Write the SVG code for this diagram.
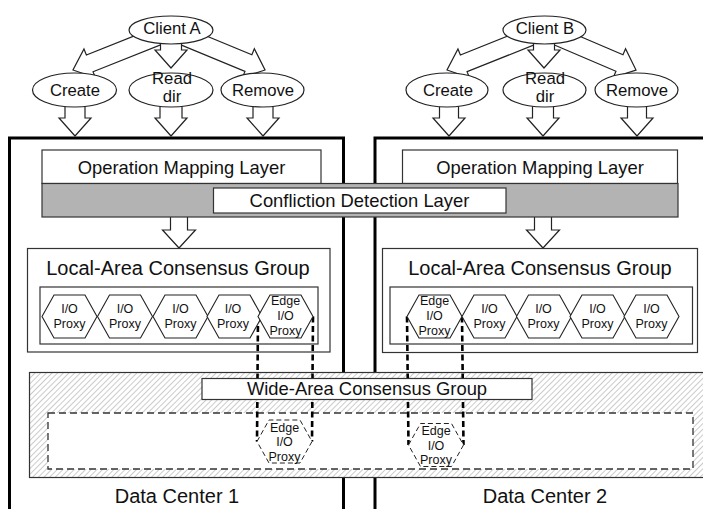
<svg xmlns="http://www.w3.org/2000/svg" xmlns:xlink="http://www.w3.org/1999/xlink" width="703" height="509" viewBox="0 0 703 509">
  <style>
    text { font-family: "Liberation Sans", Arial, sans-serif; fill: #111; text-anchor: middle; }
    .dc { fill: #fff; stroke: #000; stroke-width: 3; }
    .box { fill: #fff; stroke: #333; stroke-width: 1.2; }
    .frame { fill: none; stroke: #333; stroke-width: 1.2; }
    .band { fill: #b3b3b3; stroke: #333; stroke-width: 1.2; }
    .arrow { fill: #fff; stroke: #222; stroke-width: 1.2; stroke-linejoin: miter; }
    .ell { fill: #fff; stroke: #222; stroke-width: 1.2; }
    .hex { fill: #fff; stroke: #222; stroke-width: 1.1; }
    .hexd { fill: #fff; stroke: #222; stroke-width: 1; stroke-dasharray: 5 3; }
    .link { fill: none; stroke: #000; stroke-width: 2.6; stroke-dasharray: 6 3.5; }
    .dash { fill: #fff; stroke: #333; stroke-width: 1.3; stroke-dasharray: 7 4; }
    .t16 { font-size: 16.7px; }
    .t18 { font-size: 18.4px; }
    .t20 { font-size: 20px; }
    .t12 { font-size: 12.5px; }
  </style>
  <defs>
    <pattern id="hatch" patternUnits="userSpaceOnUse" width="4" height="4" patternTransform="rotate(45)">
      <line x1="0" y1="0" x2="0" y2="4" stroke="#8c8c8c" stroke-width="0.9"/>
    </pattern>
    <polygon id="hexShape" points="0,21.5 12,0 43,0 55,21.5 43,43 12,43"/>
  </defs>

  <!-- data centre frames -->
  <g id="dc1">
    <rect class="dc" x="9.5" y="138" width="334" height="400"/>
    <text class="t20" x="177" y="502.5">Data Center 1</text>
  </g>
  <g id="dc2">
    <rect class="dc" x="375" y="138" width="400" height="400"/>
    <text class="t20" x="545" y="502.5">Data Center 2</text>
  </g>

  <!-- wide-area region (hatched) and its inner member area -->
  <g id="wide-area-region">
    <rect x="29.5" y="372.5" width="690" height="105" fill="#fff"/>
    <rect x="29.5" y="372.5" width="690" height="105" fill="url(#hatch)" stroke="#333" stroke-width="1.2"/>
    <rect class="dash" x="48" y="413" width="645" height="56"/>
  </g>

  <!-- connectors -->
  <g id="connectors">
    <!-- client A fan-out -->
    <path class="arrow" transform="translate(171,31) rotate(158.3)" d="M0,-9 L87.5,-9 L87.5,-15.5 L105.5,0 L87.5,15.5 L87.5,9 L0,9 Z"/>
    <path class="arrow" transform="translate(171,31) rotate(22.5)" d="M0,-9 L83.8,-9 L83.8,-15.5 L101.8,0 L83.8,15.5 L83.8,9 L0,9 Z"/>
    <path class="arrow" d="M160.5,38 L160.5,50 L155,50 L171,68 L187,50 L181.5,50 L181.5,38 Z"/>
    <!-- client B fan-out -->
    <path class="arrow" transform="translate(544.5,31) rotate(158.2)" d="M0,-9 L87,-9 L87,-15.5 L105,0 L87,15.5 L87,9 L0,9 Z"/>
    <path class="arrow" transform="translate(544.5,31) rotate(23.1)" d="M0,-9 L81.5,-9 L81.5,-15.5 L99.5,0 L81.5,15.5 L81.5,9 L0,9 Z"/>
    <path class="arrow" d="M533.5,38 L533.5,50 L528,50 L544,68 L560,50 L554.5,50 L554.5,38 Z"/>
    <!-- operations into data centre 1 -->
    <path class="arrow" d="M65,104 L65,118 L59,118 L75,136 L91,118 L85,118 L85,104 Z"/>
    <path class="arrow" d="M160,104 L160,118 L155,118 L171,136 L187,118 L182,118 L182,104 Z"/>
    <path class="arrow" d="M253,104 L253,118 L247,118 L263,136 L279,118 L273,118 L273,104 Z"/>
    <!-- operations into data centre 2 -->
    <path class="arrow" d="M439.5,104 L439.5,118 L433,118 L449,136 L465,118 L458.5,118 L458.5,104 Z"/>
    <path class="arrow" d="M532.5,104 L532.5,118 L527,118 L543,136 L559,118 L553.5,118 L553.5,104 Z"/>
    <path class="arrow" d="M627.5,104 L627.5,118 L621,118 L637,136 L653,118 L646.5,118 L646.5,104 Z"/>
    <!-- detection layer to local groups -->
    <path class="arrow" d="M170.5,214 L170.5,230 L162.5,230 L179,248 L195.5,230 L187.5,230 L187.5,214 Z"/>
    <path class="arrow" d="M534.5,214 L534.5,230 L526.5,230 L543,248 L559.5,230 L551.5,230 L551.5,214 Z"/>
    <!-- edge proxy links into the wide-area group -->
    <line class="link" x1="258" y1="316.5" x2="257" y2="441.5"/>
    <line class="link" x1="313" y1="316.5" x2="312" y2="441.5"/>
    <line class="link" x1="407" y1="316.5" x2="408.5" y2="445"/>
    <line class="link" x1="462" y1="316.5" x2="463.5" y2="445"/>
  </g>

  <!-- clients and operations -->
  <g id="client-a">
    <ellipse class="ell" cx="171" cy="30" rx="42" ry="14"/>
    <text class="t16" x="172" y="33.5">Client A</text>
  </g>
  <g id="create-a">
    <ellipse class="ell" cx="74.5" cy="90" rx="42" ry="17"/>
    <text class="t16" x="75" y="96">Create</text>
  </g>
  <g id="readdir-a">
    <ellipse class="ell" cx="171" cy="90" rx="42" ry="17"/>
    <text class="t16" x="172" y="84">Read</text>
    <text class="t16" x="172" y="102">dir</text>
  </g>
  <g id="remove-a">
    <ellipse class="ell" cx="262.5" cy="90" rx="41.5" ry="17"/>
    <text class="t16" x="263" y="96">Remove</text>
  </g>
  <g id="client-b">
    <ellipse class="ell" cx="544.5" cy="30" rx="41.5" ry="14"/>
    <text class="t16" x="545" y="33.5">Client B</text>
  </g>
  <g id="create-b">
    <ellipse class="ell" cx="447" cy="90" rx="41" ry="17"/>
    <text class="t16" x="448" y="96">Create</text>
  </g>
  <g id="readdir-b">
    <ellipse class="ell" cx="544.5" cy="90" rx="41.5" ry="17"/>
    <text class="t16" x="545" y="84">Read</text>
    <text class="t16" x="545" y="102">dir</text>
  </g>
  <g id="remove-b">
    <ellipse class="ell" cx="636.5" cy="90" rx="41.5" ry="17"/>
    <text class="t16" x="637" y="96">Remove</text>
  </g>

  <!-- mapping and detection layers -->
  <g id="mapping-dc1">
    <rect class="box" x="42" y="150" width="279" height="33.5"/>
    <text class="t18" x="181.5" y="173.5">Operation Mapping Layer</text>
  </g>
  <g id="mapping-dc2">
    <rect class="box" x="402.5" y="150" width="275" height="33.5"/>
    <text class="t18" x="540" y="173.5">Operation Mapping Layer</text>
  </g>
  <g id="detection-layer">
    <rect class="band" x="42" y="183.5" width="636" height="33.5"/>
    <rect class="box" x="213.5" y="188" width="292.5" height="25"/>
    <text class="t18" x="359.5" y="207">Confliction Detection Layer</text>
  </g>

  <!-- local-area consensus group, data centre 1 -->
  <g id="local-group-dc1">
    <rect class="frame" x="27.5" y="248.5" width="302.5" height="103.5"/>
    <text class="t20" x="178" y="275">Local-Area Consensus Group</text>
    <rect class="frame" x="40" y="287" width="278" height="57"/>
  </g>
  <g id="proxy-dc1-1">
    <use xlink:href="#hexShape" class="hex" x="42" y="295"/>
    <text class="t12" x="69.5" y="312.5">I/O</text>
    <text class="t12" x="69.5" y="327.5">Proxy</text>
  </g>
  <g id="proxy-dc1-2">
    <use xlink:href="#hexShape" class="hex" x="97.5" y="295"/>
    <text class="t12" x="125" y="312.5">I/O</text>
    <text class="t12" x="125" y="327.5">Proxy</text>
  </g>
  <g id="proxy-dc1-3">
    <use xlink:href="#hexShape" class="hex" x="153" y="295"/>
    <text class="t12" x="180.5" y="312.5">I/O</text>
    <text class="t12" x="180.5" y="327.5">Proxy</text>
  </g>
  <g id="proxy-dc1-4">
    <use xlink:href="#hexShape" class="hex" x="207" y="295"/>
    <text class="t12" x="233" y="312.5">I/O</text>
    <text class="t12" x="233" y="327.5">Proxy</text>
  </g>
  <g id="edge-dc1">
    <use xlink:href="#hexShape" class="hex" x="258" y="295"/>
    <text class="t12" x="285.5" y="305">Edge</text>
    <text class="t12" x="285.5" y="320">I/O</text>
    <text class="t12" x="285.5" y="335">Proxy</text>
  </g>

  <!-- local-area consensus group, data centre 2 -->
  <g id="local-group-dc2">
    <rect class="frame" x="382.5" y="248.5" width="315" height="104"/>
    <text class="t20" x="540" y="275">Local-Area Consensus Group</text>
    <rect class="frame" x="390" y="287" width="302.5" height="57"/>
  </g>
  <g id="edge-dc2">
    <use xlink:href="#hexShape" class="hex" x="407" y="295"/>
    <text class="t12" x="434.5" y="305">Edge</text>
    <text class="t12" x="434.5" y="320">I/O</text>
    <text class="t12" x="434.5" y="335">Proxy</text>
  </g>
  <g id="proxy-dc2-1">
    <use xlink:href="#hexShape" class="hex" x="462" y="295"/>
    <text class="t12" x="489.5" y="312.5">I/O</text>
    <text class="t12" x="489.5" y="327.5">Proxy</text>
  </g>
  <g id="proxy-dc2-2">
    <use xlink:href="#hexShape" class="hex" x="516.5" y="295"/>
    <text class="t12" x="543.5" y="312.5">I/O</text>
    <text class="t12" x="543.5" y="327.5">Proxy</text>
  </g>
  <g id="proxy-dc2-3">
    <use xlink:href="#hexShape" class="hex" x="570" y="295"/>
    <text class="t12" x="597.5" y="312.5">I/O</text>
    <text class="t12" x="597.5" y="327.5">Proxy</text>
  </g>
  <g id="proxy-dc2-4">
    <use xlink:href="#hexShape" class="hex" x="624" y="295"/>
    <text class="t12" x="651.5" y="312.5">I/O</text>
    <text class="t12" x="651.5" y="327.5">Proxy</text>
  </g>

  <!-- wide-area consensus group label and its edge members -->
  <g id="wide-area-label">
    <rect class="box" x="202" y="378.5" width="330" height="21"/>
    <text class="t18" x="367" y="395">Wide-Area Consensus Group</text>
  </g>
  <g id="edge-wide-1">
    <use xlink:href="#hexShape" class="hexd" x="257" y="420"/>
    <text class="t12" x="284.5" y="431.5">Edge</text>
    <text class="t12" x="284.5" y="446">I/O</text>
    <text class="t12" x="284.5" y="460.5">Proxy</text>
  </g>
  <g id="edge-wide-2">
    <use xlink:href="#hexShape" class="hexd" x="408.5" y="423.5"/>
    <text class="t12" x="436" y="435">Edge</text>
    <text class="t12" x="436" y="449.5">I/O</text>
    <text class="t12" x="436" y="464">Proxy</text>
  </g>
</svg>
